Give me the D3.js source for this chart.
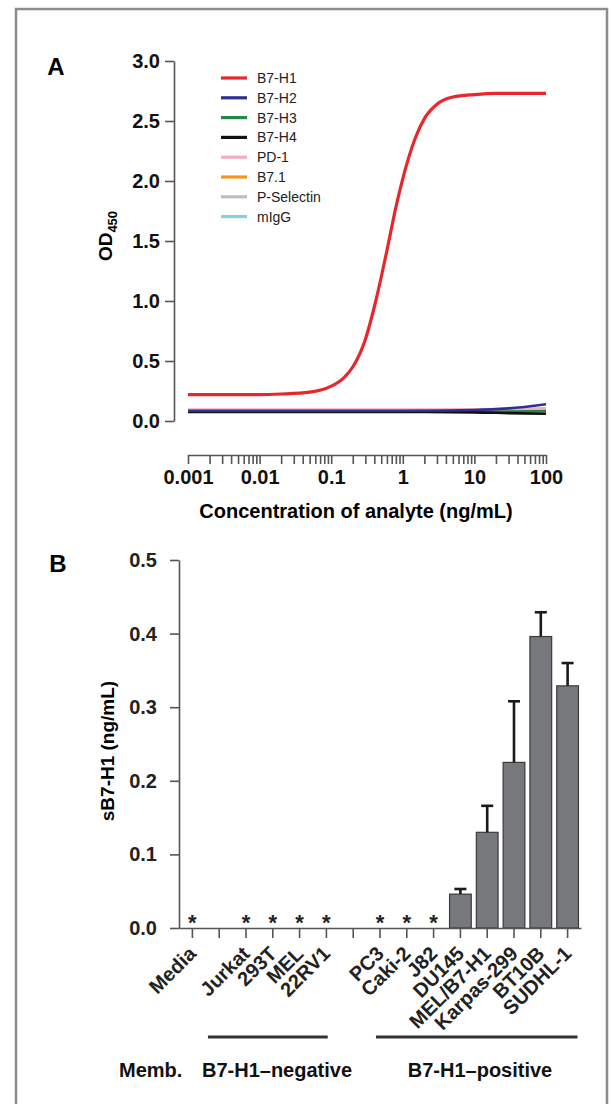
<!DOCTYPE html>
<html>
<head>
<meta charset="utf-8">
<script src="https://cdn.jsdelivr.net/npm/d3@7"></script>
<style>
  body { margin: 0; background: #fff; }
  svg text { font-family: "Liberation Sans", Arial, Helvetica, sans-serif; }
  .axis path, .axis line { stroke: #555; stroke-width: 1.6px; }
</style>
</head>
<body>
<svg id="fig" width="611" height="1104"></svg>
<script>
//////////////////////////////////////////////////////////////
////  Data - panel A (OD450 vs concentration)
var analytes = ["B7-H1", "B7-H2", "B7-H3", "B7-H4", "PD-1", "B7.1", "P-Selectin", "mIgG"];
var analyteColors = ["#e8262b", "#2e3192", "#1f8a43", "#111111", "#f5a9c4", "#f7941d", "#bcbec0", "#86d0e2"];

var concB7H1 = [0.001, 0.002, 0.005, 0.01, 0.02, 0.05, 0.1, 0.15, 0.2, 0.3, 0.4, 0.5, 0.6, 0.8, 1, 1.5, 2, 3, 5, 10, 20, 50, 100];
var odB7H1   = [0.22, 0.22, 0.22, 0.22, 0.225, 0.24, 0.29, 0.36, 0.45, 0.68, 0.95, 1.2, 1.42, 1.78, 2.02, 2.36, 2.52, 2.64, 2.70, 2.72, 2.73, 2.73, 2.73];

var concCtrl    = [0.001, 0.01, 0.1, 1, 10, 30, 100];
var odB7H2      = [0.085, 0.085, 0.085, 0.086, 0.092, 0.105, 0.14];
var odB7H3      = [0.08, 0.08, 0.08, 0.08, 0.08, 0.08, 0.082];
var odB7H4      = [0.075, 0.075, 0.075, 0.075, 0.072, 0.066, 0.06];
var odPD1       = [0.095, 0.095, 0.095, 0.095, 0.097, 0.10, 0.105];
var odB71       = [0.085, 0.085, 0.085, 0.085, 0.085, 0.086, 0.09];
var odPSelectin = [0.085, 0.085, 0.085, 0.085, 0.085, 0.085, 0.088];
var odMIgG      = [0.08, 0.08, 0.08, 0.08, 0.08, 0.08, 0.082];

var concTickLabels = ["0.001", "0.01", "0.1", "1", "10", "100"];

////  Data - panel B (sB7-H1 per cell line), "" = empty slot
var cellLines = ["Media", "", "Jurkat", "293T", "MEL", "22RV1", "", "PC3", "Caki-2", "J82", "DU145", "MEL/B7-H1", "Karpas-299", "BT10B", "SUDHL-1"];
var sB7H1     = [0, null, 0, 0, 0, 0, null, 0, 0, 0, 0.046, 0.13, 0.225, 0.396, 0.329];
var sB7H1Err  = [0, null, 0, 0, 0, 0, null, 0, 0, 0, 0.007, 0.036, 0.083, 0.033, 0.031];
var belowLimit = [true, false, true, true, true, true, false, true, true, true, false, false, false, false, false];

var groupNames = ["B7-H1\u2013negative", "B7-H1\u2013positive"];

//////////////////////////////////////////////////////////////
var svg = d3.select("#fig");

// frame
svg.append("rect")
  .attr("x", 16).attr("y", 9)
  .attr("width", 591).attr("height", 1110)
  .attr("fill", "none")
  .attr("stroke", "#8c8c8c")
  .attr("stroke-width", 2.5);

//////////////////////////////////////////////////////////////
////  Panel A
svg.append("text").attr("x", 56).attr("y", 75)
  .attr("text-anchor", "middle").attr("font-size", 24).attr("font-weight", "bold")
  .text("A");

var xA = d3.scaleLog().domain([0.001, 100]).range([188, 546]);
var yA = d3.scaleLinear().domain([0, 3]).range([421, 61]);

// x axis (log, separate from plot)
var logTicks = [];
for (var e = -3; e < 2; e++) {
  for (var m = 1; m < 10; m++) logTicks.push(m * Math.pow(10, e));
}
logTicks.push(100);

var xAxisA = d3.axisBottom(xA)
  .tickValues(logTicks)
  .tickSize(9)
  .tickSizeOuter(0)
  .tickPadding(6)
  .tickFormat(function(d) {
    var k = Math.round(Math.log10(d));
    return Math.abs(d - Math.pow(10, k)) < 1e-9 ? concTickLabels[k + 3] : "";
  });

svg.append("g").attr("class", "axis")
  .attr("transform", "translate(0,455)")
  .call(xAxisA)
  .selectAll("text")
    .attr("font-size", 20).attr("font-weight", "bold").attr("fill", "#111")
    .attr("font-family", "Liberation Sans, Arial, sans-serif");

var yAxisA = d3.axisLeft(yA)
  .tickValues([0, 0.5, 1, 1.5, 2, 2.5, 3])
  .tickFormat(d3.format(".1f"))
  .tickSize(9)
  .tickSizeOuter(0)
  .tickPadding(5);

svg.append("g").attr("class", "axis")
  .attr("transform", "translate(174,0)")
  .call(yAxisA)
  .selectAll("text")
    .attr("font-size", 20).attr("font-weight", "bold").attr("fill", "#111")
    .attr("font-family", "Liberation Sans, Arial, sans-serif");

// axis titles
var od = svg.append("text")
  .attr("transform", "translate(112,236) rotate(-90)")
  .attr("text-anchor", "middle")
  .attr("font-size", 19).attr("font-weight", "bold");
od.append("tspan").text("OD");
od.append("tspan").attr("font-size", 13).attr("dy", 5).text("450");

svg.append("text").attr("x", 356).attr("y", 518)
  .attr("text-anchor", "middle").attr("font-size", 20).attr("font-weight", "bold")
  .text("Concentration of analyte (ng/mL)");

// curves
var curveData = [
  { name: "mIgG",       x: concCtrl, y: odMIgG },
  { name: "P-Selectin", x: concCtrl, y: odPSelectin },
  { name: "B7.1",       x: concCtrl, y: odB71 },
  { name: "B7-H3",      x: concCtrl, y: odB7H3 },
  { name: "PD-1",       x: concCtrl, y: odPD1 },
  { name: "B7-H4",      x: concCtrl, y: odB7H4 },
  { name: "B7-H2",      x: concCtrl, y: odB7H2 },
  { name: "B7-H1",      x: concB7H1, y: odB7H1 }
];

var line = d3.line()
  .curve(d3.curveMonotoneX)
  .x(function(d) { return xA(d[0]); })
  .y(function(d) { return yA(d[1]); });

svg.append("g").selectAll("path")
  .data(curveData)
  .enter()
  .append("path")
    .attr("fill", "none")
    .attr("stroke", function(d) { return analyteColors[analytes.indexOf(d.name)]; })
    .attr("stroke-width", function(d) { return d.name == "B7-H1" ? 3.2 : 2.6; })
    .attr("d", function(d) { return line(d.x.map(function(c, i) { return [c, d.y[i]]; })); });

// legend
var legend = svg.append("g").selectAll("g")
  .data(analytes)
  .enter()
  .append("g")
    .attr("transform", function(d, i) { return "translate(221," + (78 + i * 19.8) + ")"; });
legend.append("line")
  .attr("x1", 0).attr("x2", 26)
  .attr("stroke", function(d, i) { return analyteColors[i]; })
  .attr("stroke-width", 3.2);
legend.append("text")
  .attr("x", 36).attr("y", 5)
  .attr("font-size", 14).attr("fill", "#222")
  .text(function(d) { return d; });

//////////////////////////////////////////////////////////////
////  Panel B
svg.append("text").attr("x", 58).attr("y", 572)
  .attr("text-anchor", "middle").attr("font-size", 24).attr("font-weight", "bold")
  .text("B");

var xB = d3.scaleBand()
  .domain(d3.range(cellLines.length))
  .range([179, 581])
  .paddingInner(0.19)
  .paddingOuter(0.095);
var yB = d3.scaleLinear().domain([0, 0.5]).range([928, 560]);

var yAxisB = d3.axisLeft(yB)
  .tickValues([0, 0.1, 0.2, 0.3, 0.4, 0.5])
  .tickFormat(d3.format(".1f"))
  .tickSize(9)
  .tickSizeOuter(0)
  .tickPadding(13);

svg.append("g").attr("class", "axis")
  .attr("transform", "translate(179,0)")
  .call(yAxisB)
  .selectAll("text")
    .attr("font-size", 20).attr("font-weight", "bold").attr("fill", "#222")
    .attr("font-family", "Liberation Sans, Arial, sans-serif");

svg.append("text")
  .attr("transform", "translate(114,751) rotate(-90)")
  .attr("text-anchor", "middle")
  .attr("font-size", 19).attr("font-weight", "bold")
  .text("sB7-H1 (ng/mL)");

// bars
var bw = xB.bandwidth();
var barIdx = d3.range(cellLines.length).filter(function(i) { return sB7H1[i] > 0; });

svg.append("g").selectAll("rect")
  .data(barIdx)
  .enter()
  .append("rect")
    .attr("x", function(i) { return xB(i); })
    .attr("y", function(i) { return yB(sB7H1[i]); })
    .attr("width", bw)
    .attr("height", function(i) { return yB(0) - yB(sB7H1[i]); })
    .attr("fill", "#77787b")
    .attr("stroke", "#3a3a3a")
    .attr("stroke-width", 1.2);

// error bars
var eb = svg.append("g").attr("stroke", "#1a1a1a").attr("stroke-width", 2.6);
eb.selectAll(".stem")
  .data(barIdx)
  .enter()
  .append("line")
    .attr("x1", function(i) { return xB(i) + bw / 2; })
    .attr("x2", function(i) { return xB(i) + bw / 2; })
    .attr("y1", function(i) { return yB(sB7H1[i]); })
    .attr("y2", function(i) { return yB(sB7H1[i] + sB7H1Err[i]); });
eb.selectAll(".cap")
  .data(barIdx)
  .enter()
  .append("line")
    .attr("x1", function(i) { return xB(i) + bw / 2 - 6; })
    .attr("x2", function(i) { return xB(i) + bw / 2 + 6; })
    .attr("y1", function(i) { return yB(sB7H1[i] + sB7H1Err[i]); })
    .attr("y2", function(i) { return yB(sB7H1[i] + sB7H1Err[i]); });

// x axis (ticks at every slot)
var xAxisB = d3.axisBottom(xB).tickSize(10).tickSizeOuter(0).tickFormat("");
svg.append("g").attr("class", "axis")
  .attr("transform", "translate(0," + yB(0) + ")")
  .call(xAxisB);

// asterisks for below detection
svg.append("g").selectAll("text")
  .data(d3.range(cellLines.length).filter(function(i) { return belowLimit[i]; }))
  .enter()
  .append("text")
    .attr("x", function(i) { return xB(i) + bw / 2; })
    .attr("y", yB(0) + 2)
    .attr("text-anchor", "middle")
    .attr("font-size", 22).attr("font-weight", "bold").attr("fill", "#222")
    .text("*");

// rotated cell line labels
svg.append("g").selectAll("text")
  .data(d3.range(cellLines.length).filter(function(i) { return cellLines[i] != ""; }))
  .enter()
  .append("text")
    .attr("transform", function(i) {
      return "translate(" + (xB(i) + bw / 2 + 5) + ",955) rotate(-45)";
    })
    .attr("text-anchor", "end")
    .attr("font-size", 20).attr("font-weight", "bold").attr("fill", "#222")
    .text(function(i) { return cellLines[i]; });

// membrane groups
var slot = d3.scaleLinear().domain([0, cellLines.length]).range([179, 581]);
var groupSpans = [[1.08, 5.55], [7.35, 14.87]];
svg.append("g").selectAll("line")
  .data(groupSpans)
  .enter()
  .append("line")
    .attr("x1", function(d) { return slot(d[0]); })
    .attr("x2", function(d) { return slot(d[1]); })
    .attr("y1", 1037).attr("y2", 1037)
    .attr("stroke", "#333").attr("stroke-width", 3);

svg.append("text").attr("x", 119).attr("y", 1077)
  .attr("font-size", 20).attr("font-weight", "bold").attr("fill", "#111")
  .text("Memb.");
svg.append("g").selectAll("text")
  .data(groupNames)
  .enter()
  .append("text")
    .attr("x", function(d, i) { return [277, 480][i]; })
    .attr("y", 1077)
    .attr("text-anchor", "middle")
    .attr("font-size", 20).attr("font-weight", "bold").attr("fill", "#111")
    .text(function(d) { return d; });
</script>
</body>
</html>
